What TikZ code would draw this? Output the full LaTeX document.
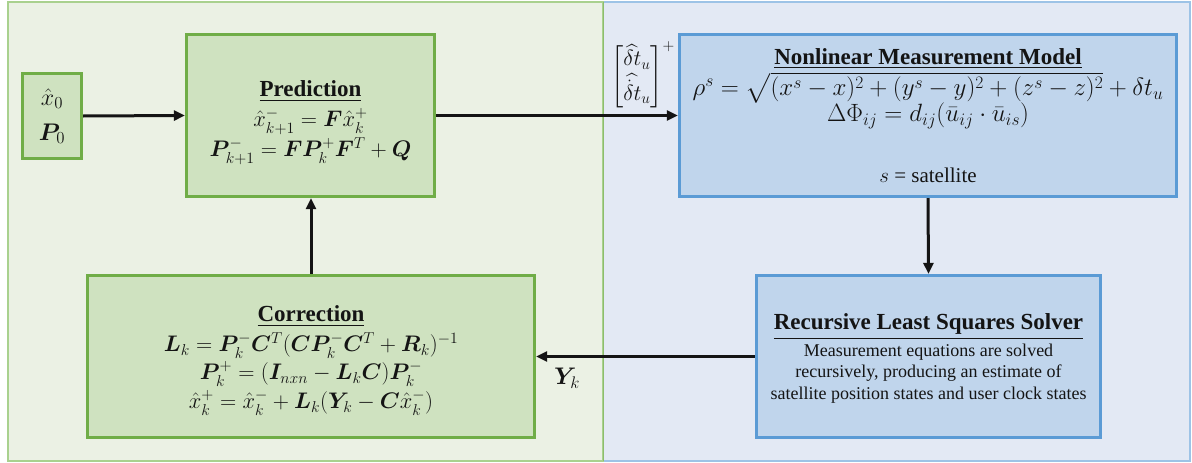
\RequirePackage{fix-cm}
\documentclass[tikz,border=0pt]{standalone}
\usepackage{amsmath}
\usepackage[no-math]{fontspec}
\setmainfont{Liberation Serif}
\usepackage{bm}
\usetikzlibrary{arrows.meta}
\definecolor{gpanel}{HTML}{EBF1E4}
\definecolor{gpanelb}{HTML}{A9D18E}
\definecolor{bpanel}{HTML}{E3E9F4}
\definecolor{bpanelb}{HTML}{9DC3E6}
\definecolor{gfill}{HTML}{CFE2C0}
\definecolor{gline}{HTML}{70AD47}
\definecolor{bfill}{HTML}{C0D5EC}
\definecolor{bline}{HTML}{5B9BD5}
\definecolor{ink}{HTML}{141414}
\newcommand{\ttlfont}{\fontsize{23}{27}\selectfont\bfseries}
\begin{document}
\begin{tikzpicture}[x=1pt,y=-1pt,
  gbox/.style={draw=gline, fill=gfill, line width=3.3pt, inner sep=0pt, align=center, text=ink},
  bbox/.style={draw=bline, fill=bfill, line width=3.3pt, inner sep=0pt, align=center, text=ink},
  flow/.style={draw=ink, line width=3pt, -{Triangle[length=11pt,width=10pt]}}
]
\useasboundingbox (0,0) rectangle (1192,463);
% panels
\draw[fill=bpanel, draw=bpanelb, line width=2pt] (603,2) rectangle (1190,461);
\draw[fill=gpanel, draw=gpanelb, line width=2pt] (8,2) rectangle (603,461);
\draw[gline!80, line width=1pt] (603,2) -- (603,461);

% boxes
\node[gbox, font=\fontsize{24}{35}\selectfont, minimum width=59pt, minimum height=85pt] (init) at (52,116)
  {$\hat{x}_0$\\ $\bm{P}_0$};
\node[gbox, font=\fontsize{22.5}{28}\selectfont, minimum width=248pt, minimum height=162pt] (pred) at (310.5,115.5)
  {\rule{0pt}{30pt}{\ttlfont\underline{Prediction}}\\[2pt]
   $\hat{x}_{k+1}^{-} = \bm{F}\hat{x}_k^{+}$\\[2pt]
   $\bm{P}_{k+1}^{-} = \bm{F}\bm{P}_k^{+}\bm{F}^T + \bm{Q}$};
\node[bbox, font=\fontsize{25}{27}\selectfont, minimum width=497pt, minimum height=162pt] (nmm) at (928,115.5)
  {{\ttlfont\underline{Nonlinear Measurement Model}}\\[2pt]
   $\rho^s = \sqrt{(x^s - x)^2 + (y^s - y)^2 + (z^s - z)^2} + \delta t_u$\\[-1pt]
   $\Delta\Phi_{ij} = d_{ij}(\bar{u}_{ij}\cdot\bar{u}_{is})$\\[34pt]
   {\fontsize{21}{27}\selectfont $s$ = satellite}};
\node[bbox, font=\fontsize{18}{21.5}\selectfont, minimum width=344pt, minimum height=162pt] (rls) at (928.5,356.5)
  {\rule{0pt}{20pt}{\ttlfont\underline{Recursive Least Squares Solver}}\\[3pt]
   Measurement equations are solved\\
   recursively, producing an estimate of\\
   satellite position states and user clock states};
\node[gbox, font=\fontsize{22.5}{27}\selectfont, minimum width=447pt, minimum height=162pt] (corr) at (311,356.5)
  {\rule{0pt}{24pt}{\ttlfont\underline{Correction}}\\[3pt]
   $\bm{L}_k = \bm{P}_k^{-}\bm{C}^T(\bm{C}\bm{P}_k^{-}\bm{C}^T + \bm{R}_k)^{-1}$\\[1pt]
   $\bm{P}_k^{+} = (\bm{I}_{nxn} - \bm{L}_k\bm{C})\bm{P}_k^{-}$\\[2pt]
   $\hat{x}_k^{+} = \hat{x}_k^{-} + \bm{L}_k(\bm{Y}_k - \bm{C}\hat{x}_k^{-})$};

% labels
\node[font=\fontsize{22}{27}\selectfont, text=ink] (dtlab) at (643,75)
  {$\begin{bmatrix}\widehat{\delta t}_u\\ \widehat{\dot{\delta} t}_u\end{bmatrix}^{+}$};
\node[font=\fontsize{24}{27}\selectfont, text=ink] (ylab) at (567,378) {$\bm{Y}_k$};

% connectors
\draw[flow] (init.east) -- (pred.west);
\draw[flow] (pred.east) -- (nmm.west);
\draw[flow] (nmm.south) -- (rls.north);
\draw[flow] (rls.west) -- (corr.east);
\draw[flow] (corr.north) -- (corr.north |- pred.south);
\end{tikzpicture}
\end{document}
